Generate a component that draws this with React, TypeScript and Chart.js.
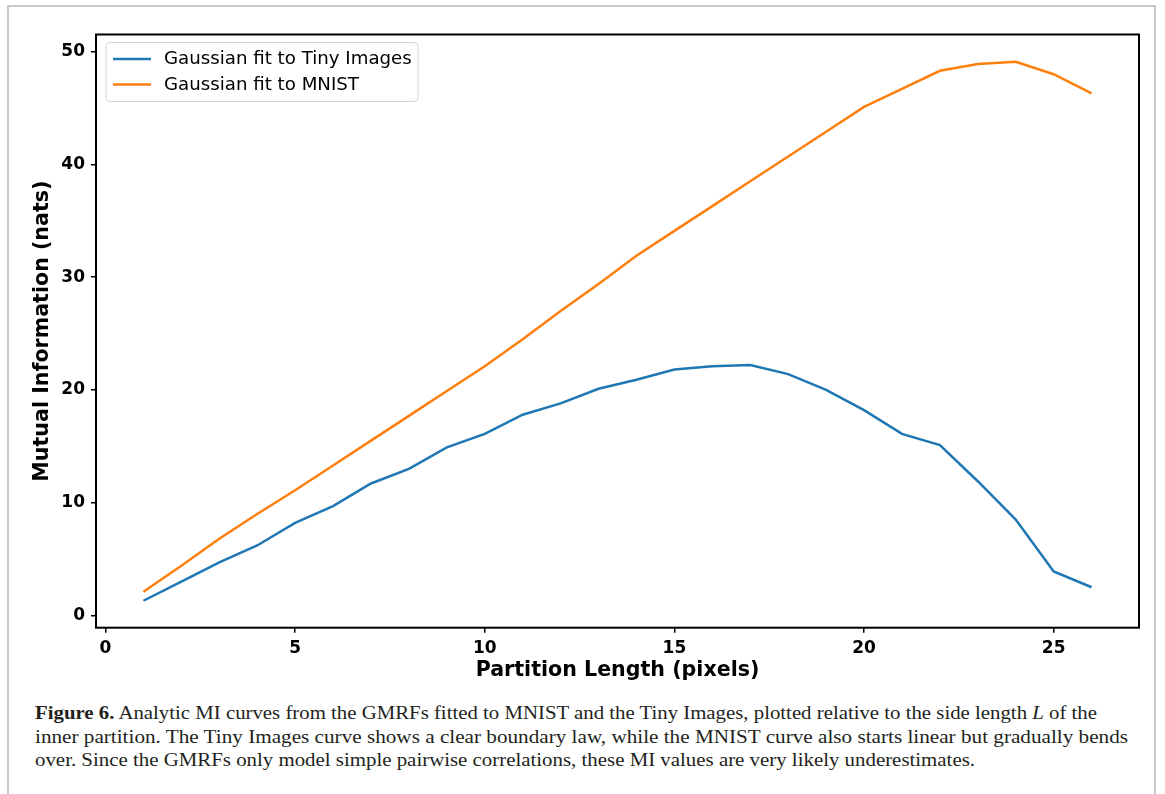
import React, { useEffect, useLayoutEffect, useRef } from "react";
import { Chart, registerables } from "chart.js";

Chart.register(...registerables);

const partitionLength = [1, 2, 3, 4, 5, 6, 7, 8, 9, 10, 11, 12, 13, 14, 15, 16, 17, 18, 19, 20, 21, 22, 23, 24, 25, 26];
const tinyImagesMI = [1.3, 3.0, 4.7, 6.2, 8.2, 9.7, 11.7, 13.0, 14.9, 16.1, 17.8, 18.8, 20.1, 20.9, 21.8, 22.1, 22.2, 21.4, 20.0, 18.2, 16.1, 15.1, 11.9, 8.5, 3.9, 2.5];
const mnistMI = [2.1, 4.4, 6.8, 9.0, 11.1, 13.3, 15.5, 17.7, 19.9, 22.1, 24.5, 27.0, 29.4, 31.9, 34.1, 36.3, 38.5, 40.7, 42.9, 45.1, 46.7, 48.3, 48.9, 49.1, 48.0, 46.3];
const seriesLabels = ["Gaussian fit to Tiny Images", "Gaussian fit to MNIST"];
const xTicks = [0, 5, 10, 15, 20, 25];
const yTicks = [0, 10, 20, 30, 40, 50];
const xTitle = "Partition Length (pixels)";
const yTitle = "Mutual Information (nats)";
const captionLines = [
  [
    { t: "Figure 6.", b: true },
    { t: " Analytic MI curves from the GMRFs fitted to MNIST and the Tiny Images, plotted relative to the side length " },
    { t: "L", i: true },
    { t: " of the" },
  ],
  [{ t: "inner partition. The Tiny Images curve shows a clear boundary law, while the MNIST curve also starts linear but gradually bends" }],
  [{ t: "over. Since the GMRFs only model simple pairwise correlations, these MI values are very likely underestimates." }],
];

const BLUE = "#1f77b4";
const ORANGE = "#ff7f0e";
const FONT = "'DejaVu Sans', sans-serif";

const decorPlugin = {
  id: "decor",
  afterDatasetsDraw(chart: any) {
    const { ctx, chartArea } = chart;
    const { left, right, top, bottom } = chartArea;
    ctx.save();
    ctx.strokeStyle = "#000";
    ctx.lineWidth = 2;
    ctx.strokeRect(left, top, right - left, bottom - top);

    // legend
    const lx = left + 10, ly = top + 8, lw = 312, lh = 59;
    ctx.beginPath();
    const r = 4;
    ctx.moveTo(lx + r, ly);
    ctx.lineTo(lx + lw - r, ly);
    ctx.quadraticCurveTo(lx + lw, ly, lx + lw, ly + r);
    ctx.lineTo(lx + lw, ly + lh - r);
    ctx.quadraticCurveTo(lx + lw, ly + lh, lx + lw - r, ly + lh);
    ctx.lineTo(lx + r, ly + lh);
    ctx.quadraticCurveTo(lx, ly + lh, lx, ly + lh - r);
    ctx.lineTo(lx, ly + r);
    ctx.quadraticCurveTo(lx, ly, lx + r, ly);
    ctx.closePath();
    ctx.fillStyle = "rgba(255,255,255,0.85)";
    ctx.fill();
    ctx.strokeStyle = "#d4d4d4";
    ctx.lineWidth = 1;
    ctx.stroke();

    const colors = [BLUE, ORANGE];
    seriesLabels.forEach((lab, i) => {
      const yy = ly + 16.5 + i * 25.5;
      ctx.strokeStyle = colors[i];
      ctx.lineWidth = 2.5;
      ctx.beginPath();
      ctx.moveTo(lx + 7, yy);
      ctx.lineTo(lx + 45, yy);
      ctx.stroke();
      ctx.fillStyle = "#000";
      ctx.font = `18.2px ${FONT}`;
      ctx.textBaseline = "middle";
      ctx.textAlign = "left";
      ctx.fillText(lab, lx + 58, yy + 0.5);
    });

    // axis titles
    ctx.fillStyle = "#000";
    ctx.font = `bold 20.6px ${FONT}`;
    ctx.textAlign = "center";
    ctx.textBaseline = "middle";
    ctx.fillText(xTitle, (left + right) / 2, 671);
    ctx.save();
    ctx.translate(43, (top + bottom) / 2);
    ctx.rotate(-Math.PI / 2);
    ctx.fillText(yTitle, 0, 0);
    ctx.restore();
    ctx.restore();
  },
};

function CaptionLine({ parts, target, top }: { parts: any[]; target: number; top: number }) {
  const ref = useRef<HTMLSpanElement>(null);
  useLayoutEffect(() => {
    const el = ref.current;
    if (!el) return;
    el.style.transform = "none";
    const w = el.getBoundingClientRect().width;
    if (w > 0) el.style.transform = `scaleX(${target / w})`;
  }, [target]);
  return (
    <span
      ref={ref}
      style={{
        position: "absolute",
        left: 35,
        top,
        whiteSpace: "nowrap",
        transformOrigin: "0 0",
        fontFamily: "'Liberation Serif', 'Times New Roman', serif",
        fontSize: 19.5,
        lineHeight: "24px",
        color: "#231f20",
        display: "inline-block",
      }}
    >
      {parts.map((p, k) => (
        <span key={k} style={{ fontWeight: p.b ? "bold" : "normal", fontStyle: p.i ? "italic" : "normal" }}>
          {p.t}
        </span>
      ))}
    </span>
  );
}

export default function App() {
  const canvasRef = useRef<HTMLCanvasElement>(null);

  useEffect(() => {
    if (!canvasRef.current) return;
    const chart = new Chart(canvasRef.current, {
      type: "line",
      data: {
        datasets: [
          {
            label: seriesLabels[0],
            data: partitionLength.map((x, i) => ({ x, y: tinyImagesMI[i] })),
            borderColor: BLUE,
            backgroundColor: BLUE,
            borderWidth: 2.5,
            pointRadius: 0,
            tension: 0,
          },
          {
            label: seriesLabels[1],
            data: partitionLength.map((x, i) => ({ x, y: mnistMI[i] })),
            borderColor: ORANGE,
            backgroundColor: ORANGE,
            borderWidth: 2.5,
            pointRadius: 0,
            tension: 0,
          },
        ],
      },
      options: {
        animation: false,
        responsive: false,
        devicePixelRatio: 1,
        layout: { padding: { left: 0, right: 26, top: 34.5, bottom: 0 } },
        plugins: { legend: { display: false }, tooltip: { enabled: false }, title: { display: false } },
        scales: {
          x: {
            type: "linear",
            min: -0.25,
            max: 27.25,
            afterFit: (s: any) => { s.height = 700 - 627.7; },
            afterBuildTicks: (s: any) => { s.ticks = xTicks.map((v) => ({ value: v })); },
            grid: { drawOnChartArea: false, drawTicks: true, tickLength: 5, color: "#000", lineWidth: 1.5 },
            border: { display: false },
            ticks: { color: "#000", padding: 5.5, font: { family: FONT, size: 17, weight: "bold" }, maxRotation: 0 },
          },
          y: {
            type: "linear",
            min: -1.09,
            max: 51.52,
            afterFit: (s: any) => { s.width = 96; },
            afterBuildTicks: (s: any) => { s.ticks = yTicks.map((v) => ({ value: v })); },
            grid: { drawOnChartArea: false, drawTicks: true, tickLength: 5, color: "#000", lineWidth: 1.5 },
            border: { display: false },
            ticks: { color: "#000", padding: 6, font: { family: FONT, size: 17, weight: "bold" } },
          },
        },
      },
      plugins: [decorPlugin],
    } as any);
    return () => chart.destroy();
  }, []);

  return (
    <div style={{ position: "absolute", left: 0, top: 0, width: 1165, height: 794, overflow: "hidden", background: "#fff" }}>
      <div
        style={{
          position: "absolute",
          left: 7,
          top: 5,
          width: 1149,
          height: 820,
          border: "2px solid #c9c9c9",
          boxSizing: "border-box",
        }}
      />
      <canvas ref={canvasRef} width={1165} height={700} style={{ position: "absolute", left: 0, top: 0, width: 1165, height: 700 }} />
      <CaptionLine parts={captionLines[0]} target={1062} top={701} />
      <CaptionLine parts={captionLines[1]} target={1093} top={725} />
      <CaptionLine parts={captionLines[2]} target={940} top={748} />
    </div>
  );
}
